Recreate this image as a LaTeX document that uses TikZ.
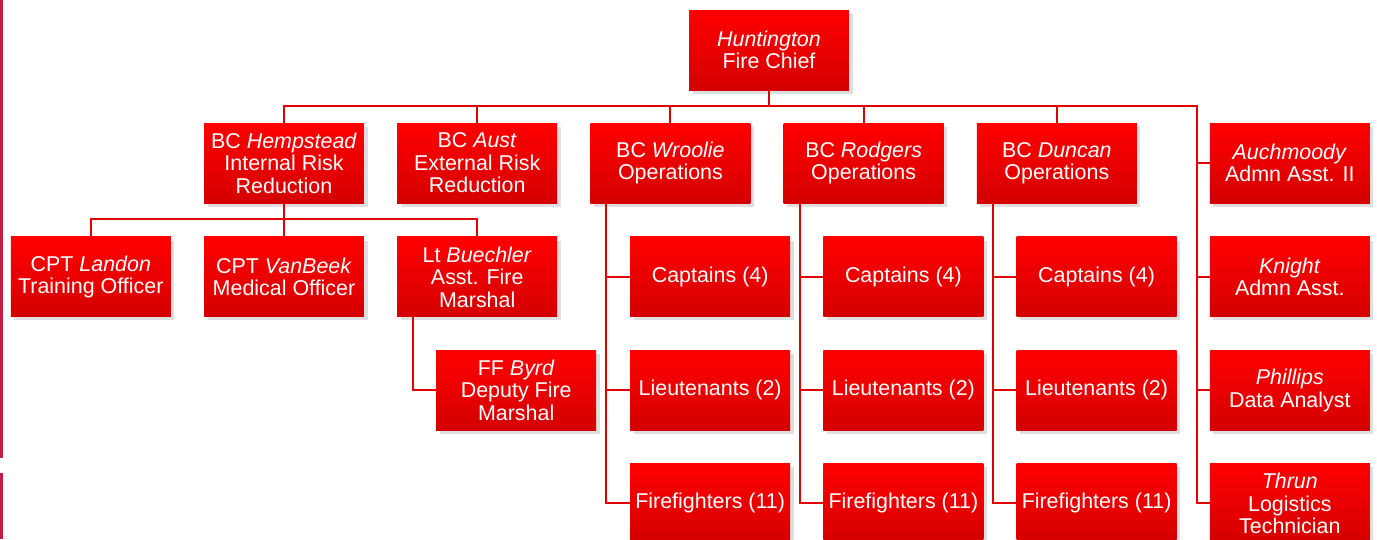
\documentclass[tikz,border=0pt]{standalone}
\usepackage{fontspec}
\setmainfont{Liberation Sans}
\usetikzlibrary{positioning,shadows}
\definecolor{boxtop}{RGB}{255,0,0}
\definecolor{boxbot}{RGB}{212,0,0}
\definecolor{linered}{RGB}{224,0,0}
\definecolor{edgered}{RGB}{200,30,70}

\begin{document}
\begin{tikzpicture}[x=0.02cm,y=-0.02cm,node distance=0.665cm and 0.665cm,
  chart node/.style={rectangle,top color=boxtop,bottom color=boxbot,text=white,
    minimum width=3.2cm,minimum height=1.6cm,inner sep=0pt,outer sep=0pt,align=center,
    font=\fontsize{12.2}{12.8}\selectfont,
    drop shadow={opacity=0.25,shadow xshift=2pt,shadow yshift=-2pt}},
  drop/.style={to path={-- ++(0,16) -| (\tikztotarget)}},
  side/.style={to path={|- (\tikztotarget)}}]

  \useasboundingbox (0,0) rectangle (1377,539);
  \draw[edgered,line width=1.5pt] (1.5,0) -- (1.5,458) (1.5,473) -- (1.5,539);

  \node[chart node] (HU) at (769,50) {\textit{Huntington}\\Fire Chief};

  \node[chart node] (HE) at (284,163) {BC \textit{Hempstead}\\Internal Risk\\Reduction};
  \node[chart node] (AU) [right=of HE] {BC \textit{Aust}\\External Risk\\Reduction};
  \node[chart node] (WR) [right=of AU] {BC \textit{Wroolie}\\Operations};
  \node[chart node] (RO) [right=of WR] {BC \textit{Rodgers}\\Operations};
  \node[chart node] (DU) [right=of RO] {BC \textit{Duncan}\\Operations};
  \node[chart node] (AC) [right=1.46cm of DU] {\textit{Auchmoody}\\Admn Asst. II};

  \node[chart node] (VA) [below=0.68cm of HE] {CPT \textit{VanBeek}\\Medical Officer};
  \node[chart node] (LA) [left=of VA] {CPT \textit{Landon}\\Training Officer};
  \node[chart node] (BU) [right=of VA] {Lt \textit{Buechler}\\Asst. Fire\\Marshal};
  \node[chart node] (WC) [right=1.46cm of BU] {Captains (4)};
  \node[chart node] (RC) [right=of WC] {Captains (4)};
  \node[chart node] (DC) [right=of RC] {Captains (4)};
  \node[chart node] (KN) [right=of DC] {\textit{Knight}\\Admn Asst.};

  \node[chart node] (BY) [below=of BU,xshift=0.78cm] {FF \textit{Byrd}\\Deputy Fire\\Marshal};
  \node[chart node] (WL) [below=of WC] {Lieutenants (2)};
  \node[chart node] (RL) [below=of RC] {Lieutenants (2)};
  \node[chart node] (DL) [below=of DC] {Lieutenants (2)};
  \node[chart node] (PH) [below=of KN] {\textit{Phillips}\\Data Analyst};

  \node[chart node] (WF) [below=of WL] {Firefighters (11)};
  \node[chart node] (RF) [below=of RL] {Firefighters (11)};
  \node[chart node] (DF) [below=of DL] {Firefighters (11)};
  \node[chart node] (TH) [below=of PH] {\textit{Thrun}\\Logistics\\Technician};

  \coordinate (ST) at (1197,106);

  \path[every edge/.style={draw=linered,line width=1.2pt}]
    (HU.south) edge[drop] (HE.north)
               edge[drop] (AU.north)
               edge[drop] (WR.north)
               edge[drop] (RO.north)
               edge[drop] (DU.north)
               edge[drop] (ST)
    (ST) edge[side] (AC.west)
         edge[side] (KN.west)
         edge[side] (PH.west)
         edge[side] (TH.west)
    (HE.south) edge[drop] (LA.north)
               edge[drop] (VA.north)
               edge[drop] (BU.north)
    ([xshift=0.32cm]BU.south west) edge[side] (BY.west)
    ([xshift=0.32cm]WR.south west) edge[side] (WC.west)
                                   edge[side] (WL.west)
                                   edge[side] (WF.west)
    ([xshift=0.32cm]RO.south west) edge[side] (RC.west)
                                   edge[side] (RL.west)
                                   edge[side] (RF.west)
    ([xshift=0.32cm]DU.south west) edge[side] (DC.west)
                                   edge[side] (DL.west)
                                   edge[side] (DF.west);
\end{tikzpicture}
\end{document}
